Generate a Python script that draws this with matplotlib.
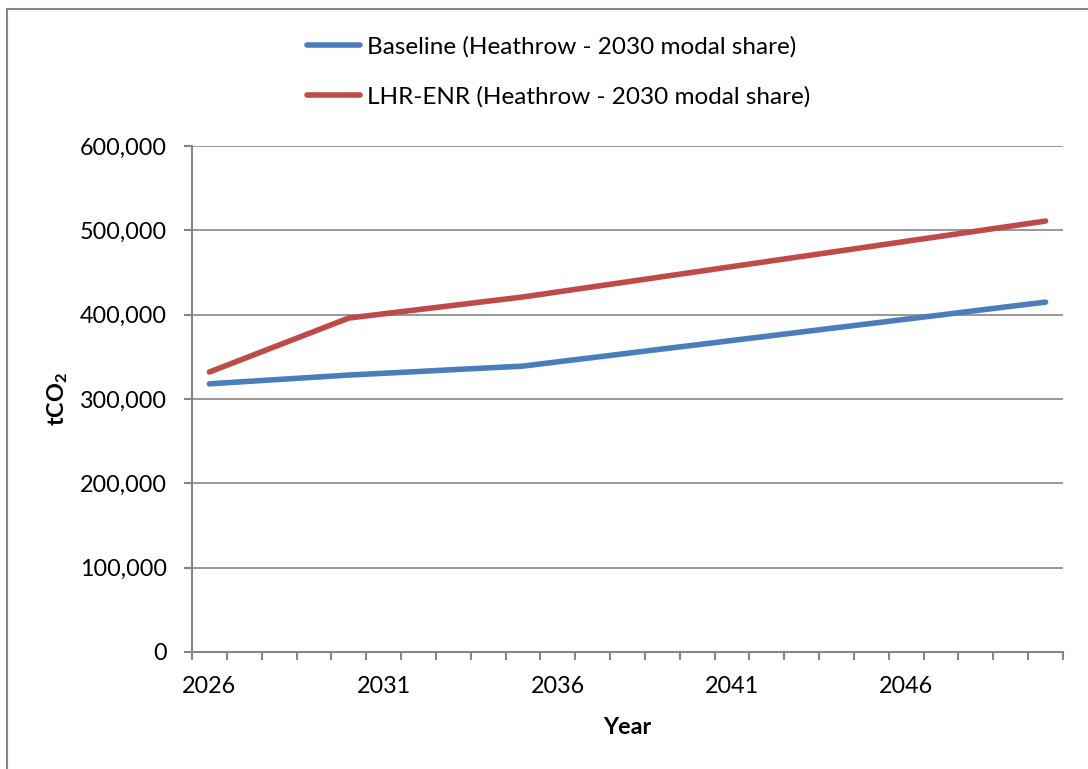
import matplotlib
matplotlib.use('Agg')
import matplotlib.pyplot as plt
from matplotlib.patches import Rectangle
from matplotlib.ticker import FuncFormatter, FixedLocator
import numpy as np

plt.rcParams['font.family'] = ['Lato', 'DejaVu Sans']
plt.rcParams['mathtext.fontset'] = 'custom'
plt.rcParams['mathtext.rm'] = 'Lato'
plt.rcParams['mathtext.bf'] = 'Lato:bold'

years = list(range(2026, 2051))
# thousand tonnes CO2
baseline = [318.0, 320.6, 323.2, 325.8, 328.4, 330.5, 332.6, 334.8, 336.9, 339.0,
            344.1, 349.1, 354.2, 359.3, 364.3, 369.4, 374.4, 379.5, 384.6, 389.6,
            394.7, 399.7, 404.8, 409.9, 414.9]
lhr_enr = [332.0, 348.0, 364.0, 380.0, 396.0, 401.0, 406.0, 411.0, 416.0, 421.0,
           427.0, 433.0, 439.0, 445.0, 451.0, 457.0, 463.0, 469.0, 475.0, 481.0,
           487.0, 493.0, 499.0, 505.0, 511.0]
labels = ['Baseline (Heathrow - 2030 modal share)',
          'LHR-ENR (Heathrow - 2030 modal share)']
colors = ['#4A7EBB', '#BE4B48']
grey = '#868686'

fig = plt.figure(figsize=(10.88, 7.69), dpi=100)
ax = fig.add_axes([192/1088, 117/769, 871/1088, 506/769])

x = np.arange(len(years))
for vals, lab, c in zip([baseline, lhr_enr], labels, colors):
    ax.plot(x, np.array(vals) * 1000, color=c, lw=4, label=lab,
            solid_capstyle='round', solid_joinstyle='round')

ax.set_xlim(-0.5, len(years) - 0.5)
ax.set_ylim(0, 600000)
ax.set_yticks(np.arange(0, 600001, 100000))
ax.yaxis.set_major_formatter(FuncFormatter(lambda v, p: f'{int(v):,}'))
ax.grid(axis='y', color=grey, lw=1.2)
ax.set_axisbelow(True)

ax.set_xticks(x[::5])
ax.set_xticklabels([str(y) for y in years[::5]])
ax.xaxis.set_minor_locator(FixedLocator(np.arange(-0.5, len(years), 1)))
ax.tick_params(axis='x', which='major', length=0, pad=17, labelsize=16.8)
ax.tick_params(axis='x', which='minor', length=6, width=1.5, color=grey, direction='out')
ax.tick_params(axis='y', length=6, width=1.5, color=grey, pad=12, labelsize=16.8)

for s in ['top', 'right']:
    ax.spines[s].set_visible(False)
for s in ['left', 'bottom']:
    ax.spines[s].set_color(grey)
    ax.spines[s].set_linewidth(1.5)

ax.set_xlabel('Year', fontsize=16.8, fontweight='bold')
ax.xaxis.set_label_coords(0.5, -0.128)
ax.set_ylabel(r'tCO$_\mathbf{2}$', fontsize=16.8, fontweight='bold')
ax.yaxis.set_label_coords(-0.14, 0.5)

ax.legend(loc='upper left', bbox_to_anchor=(307/1088, 1 - 36/769),
          bbox_transform=fig.transFigure, frameon=False, fontsize=17.5,
          handlelength=2.2, handletextpad=0.25, labelspacing=1.18,
          borderpad=0, borderaxespad=0)

fig.patches.append(Rectangle((6.5/1088, -0.1), 1.2, 1.1 - 9/769,
                             transform=fig.transFigure, fill=False,
                             edgecolor=grey, lw=1.5))

fig.savefig('out.png', dpi=100)
